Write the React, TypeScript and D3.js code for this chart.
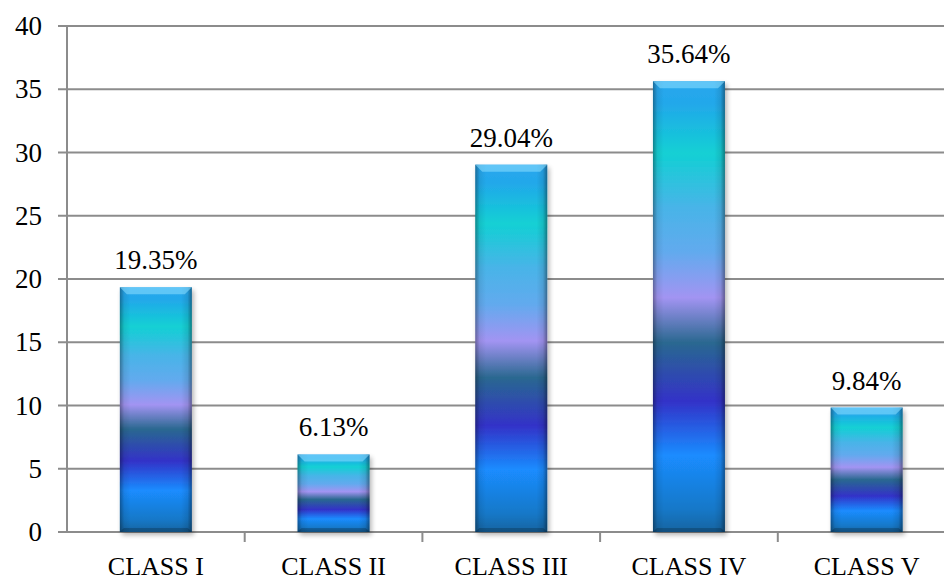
import React from "react";
import * as d3 from "d3";

const categories = ["CLASS I", "CLASS II", "CLASS III", "CLASS IV", "CLASS V"];
const values = [19.35, 6.13, 29.04, 35.64, 9.84];
const valueLabels = ["19.35%", "6.13%", "29.04%", "35.64%", "9.84%"];
const yTicks = [0, 5, 10, 15, 20, 25, 30, 35, 40];

const W = 944;
const H = 581;
const left = 67;
const bandW = 177.7;
const top = 26;
const bottom = 532;
const font = "Liberation Serif, Times New Roman, serif";

export default function App() {
  const x = d3
    .scaleBand<string>()
    .domain(categories)
    .range([left, left + bandW * categories.length])
    .paddingInner(0.595)
    .paddingOuter(0.2975);
  const y = d3.scaleLinear().domain([0, 40]).range([bottom, top]);
  const bw = x.bandwidth();
  const grid = "#8c8c8c";

  const stops: [number, string][] = [
    [0, "#1464a0"],
    [0.05, "#1778c8"],
    [0.17, "#1a8cff"],
    [0.29, "#3232c8"],
    [0.42, "#2a6890"],
    [0.52, "#a294f2"],
    [0.62, "#62aaee"],
    [0.72, "#48b4e8"],
    [0.84, "#12d0d4"],
    [0.95, "#22a8ea"],
    [1, "#2aa6ee"],
  ];

  return (
    <svg
      width={W}
      height={H}
      style={{ position: "absolute", left: 0, top: 0, background: "#fff" }}
    >
      <defs>
        <linearGradient id="vg" x1="0" y1="1" x2="0" y2="0">
          {stops.map(([o, c], i) => (
            <stop key={i} offset={o} stopColor={c} />
          ))}
        </linearGradient>
        <linearGradient id="hg" x1="0" y1="0" x2="1" y2="0">
          <stop offset="0" stopColor="#000" stopOpacity={0.35} />
          <stop offset="0.06" stopColor="#000" stopOpacity={0.08} />
          <stop offset="0.15" stopColor="#000" stopOpacity={0} />
          <stop offset="0.85" stopColor="#000" stopOpacity={0} />
          <stop offset="0.94" stopColor="#000" stopOpacity={0.1} />
          <stop offset="1" stopColor="#000" stopOpacity={0.4} />
        </linearGradient>
        <filter id="sh" x="-20%" y="-10%" width="140%" height="130%">
          <feGaussianBlur in="SourceAlpha" stdDeviation="2.5" />
          <feOffset dx="2" dy="3" result="b" />
          <feComponentTransfer>
            <feFuncA type="linear" slope="0.3" />
          </feComponentTransfer>
          <feMerge>
            <feMergeNode />
            <feMergeNode in="SourceGraphic" />
          </feMerge>
        </filter>
      </defs>

      {yTicks.map((t) => (
        <g key={t}>
          <line x1={58} x2={W} y1={y(t)} y2={y(t)} stroke={grid} strokeWidth={2} />
          <text
            x={42}
            y={y(t) + 9}
            textAnchor="end"
            fontFamily={font}
            fontSize={27}
            fill="#000"
          >
            {t}
          </text>
        </g>
      ))}
      <line x1={left} x2={left} y1={top} y2={bottom} stroke={grid} strokeWidth={2} />
      {categories.map((c, i) => (
        <line
          key={c}
          x1={left + bandW * (i + 1)}
          x2={left + bandW * (i + 1)}
          y1={bottom}
          y2={bottom + 10}
          stroke={grid}
          strokeWidth={2}
        />
      ))}

      {categories.map((c, i) => {
        const bx = x(c)!;
        const by = y(values[i]);
        const bh = bottom - by;
        const bev = 7;
        return (
          <g key={c}>
            <g filter="url(#sh)">
              <rect x={bx} y={by} width={bw} height={bh} fill="url(#vg)" />
            </g>
            <rect x={bx} y={by} width={bw} height={bh} fill="url(#hg)" />
            <polygon
              points={`${bx},${by} ${bx + bw},${by} ${bx + bw - bev},${by + bev} ${bx + bev},${by + bev}`}
              fill="#8ee0ff"
              opacity={0.55}
            />
            <polygon
              points={`${bx},${bottom} ${bx + bw},${bottom} ${bx + bw - 4},${bottom - 4} ${bx + 4},${bottom - 4}`}
              fill="#000"
              opacity={0.2}
            />
            <text
              x={bx + bw / 2}
              y={by - 18}
              textAnchor="middle"
              fontFamily={font}
              fontSize={27}
              fill="#000"
            >
              {valueLabels[i]}
            </text>
            <text
              x={bx + bw / 2}
              y={575}
              textAnchor="middle"
              fontFamily={font}
              fontSize={26}
              fill="#000"
            >
              {c}
            </text>
          </g>
        );
      })}
    </svg>
  );
}
